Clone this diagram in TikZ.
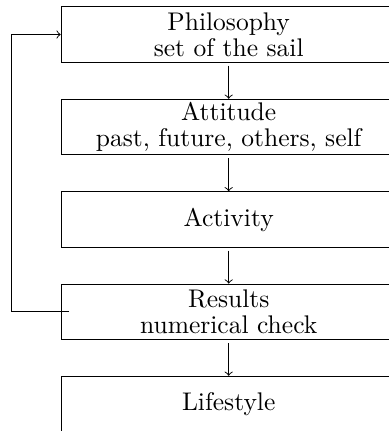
\documentclass[tikz,border=0pt]{standalone}
\begin{document}
\begin{tikzpicture}[x=0.4292pt,y=-0.4292pt,
  stagebox/.style={draw,minimum width=143.8pt,minimum height=23.8pt,align=center,inner sep=0pt,
    font=\fontsize{10.95}{11.2}\selectfont},
  flow/.style={->,shorten <=1.3pt}]
\clip (0,0) rectangle (389,431);
\node[stagebox] (phil) at (228.7,34.5) {Philosophy\\set of the sail};
\node[stagebox] (att) at (228.7,127.0) {Attitude\\past, future, others, self};
\node[stagebox] (act) at (228.7,219.5) {Activity};
\node[stagebox] (res) at (228.7,311.8) {Results\\numerical check};
\node[stagebox] (life) at (228.7,404.0) {Lifestyle};
\draw[flow] (phil) -- (att);
\draw[flow] (att) -- (act);
\draw[flow] (act) -- (res);
\draw[flow] (res) -- (life);
\coordinate (fbstart) at ([xshift=3.6pt]res.west);
\coordinate (fbleft) at (11.5,311.8);
\draw[->] (fbstart) -- (fbleft) |- (phil.west);
\end{tikzpicture}
\end{document}
